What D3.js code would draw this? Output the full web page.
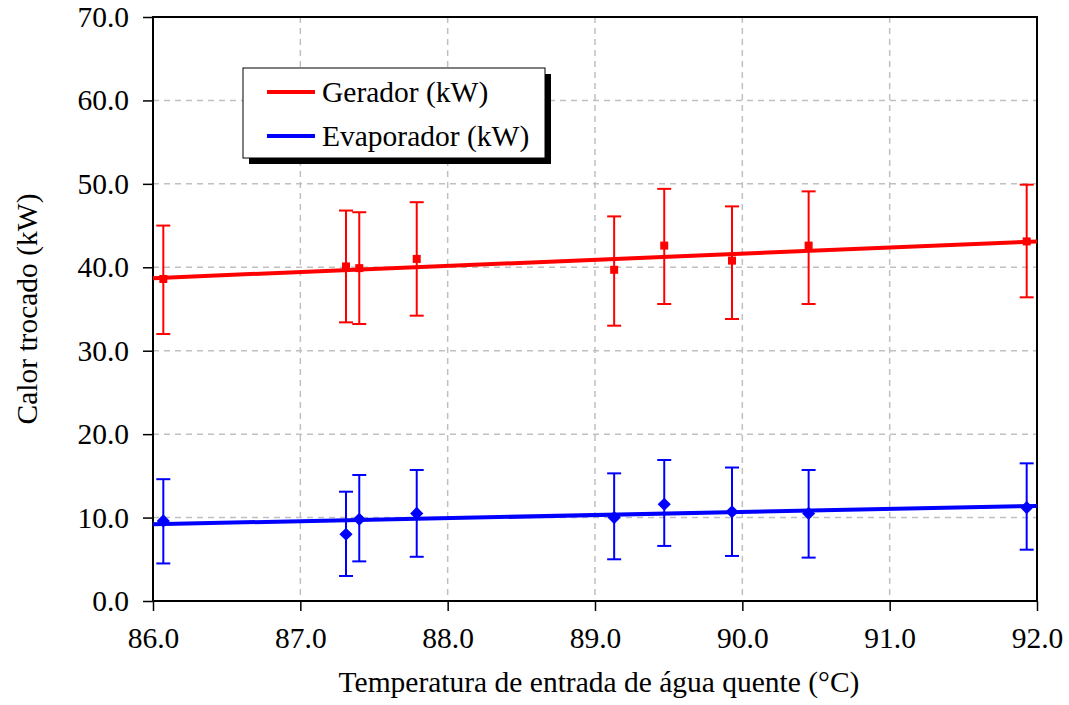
<!DOCTYPE html>
<html>
<head>
<meta charset="utf-8">
<script src="https://cdn.jsdelivr.net/npm/d3@7"></script>
<style>
  body { margin: 0; background: #fff; }
  svg text { font-family: "Liberation Serif", "DejaVu Serif", "Times New Roman", serif !important; fill: #000; }
</style>
</head>
<body>
<svg id="chart" width="1069" height="705"></svg>
<script>
// temperaturas de entrada (°C)
var temps = [86.07, 87.31, 87.40, 87.79, 89.13, 89.47, 89.93, 90.45, 91.93]

// gerador
var gerador = [38.6, 40.1, 39.9, 41.0, 39.7, 42.6, 40.8, 42.6, 43.1]
var geradorMin = [32.0, 33.4, 33.2, 34.2, 33.0, 35.6, 33.8, 35.6, 36.4]
var geradorMax = [45.0, 46.8, 46.6, 47.8, 46.1, 49.4, 47.3, 49.1, 49.9]

// evaporador
var evaporador = [9.6, 8.0, 9.8, 10.5, 10.0, 11.6, 10.7, 10.5, 11.2]
var evaporadorMin = [4.5, 3.0, 4.75, 5.3, 5.0, 6.6, 5.4, 5.2, 6.15]
var evaporadorMax = [14.6, 13.1, 15.1, 15.7, 15.3, 16.9, 16.0, 15.7, 16.5]

// linhas de tendencia (extremos)
var trendX = [86.0, 92.0]
var trendGerador = [38.7, 43.1]
var trendEvaporador = [9.2, 11.4]

var xTicks = [86, 87, 88, 89, 90, 91, 92]
var yTicks = [0, 10, 20, 30, 40, 50, 60, 70]
var legendLabels = ['Gerador (kW)', 'Evaporador (kW)']

var mLeft = 153, mRight = 1037, mTop = 17, mBottom = 601
var fs = 29.5
var serif = '"Liberation Serif", "DejaVu Serif", "Times New Roman", serif'

var svg = d3.select('#chart')
var x = d3.scaleLinear().domain([86, 92]).range([mLeft, mRight])
var y = d3.scaleLinear().domain([0, 70]).range([mBottom, mTop])

// grade
svg.append('g').selectAll('line').data(xTicks.slice(1, -1)).enter().append('line')
    .attr('x1', function(d) { return x(d) }).attr('x2', function(d) { return x(d) })
    .attr('y1', mTop).attr('y2', mBottom)
    .attr('stroke', '#c0c0c0').attr('stroke-width', 1.5).attr('stroke-dasharray', '6,5')
svg.append('g').selectAll('line').data(yTicks.slice(1, -1)).enter().append('line')
    .attr('y1', function(d) { return y(d) }).attr('y2', function(d) { return y(d) })
    .attr('x1', mLeft).attr('x2', mRight)
    .attr('stroke', '#c0c0c0').attr('stroke-width', 1.5).attr('stroke-dasharray', '6,5')

// borda da area
svg.append('rect').attr('x', mLeft).attr('y', mTop)
    .attr('width', mRight - mLeft).attr('height', mBottom - mTop)
    .attr('fill', 'none').attr('stroke', '#000').attr('stroke-width', 2)

// eixos
var xAxis = svg.append('g').attr('transform', 'translate(0,' + mBottom + ')')
    .call(d3.axisBottom(x).tickValues(xTicks).tickSize(10).tickPadding(16)
        .tickFormat(d3.format('.1f')))
var yAxis = svg.append('g').attr('transform', 'translate(' + mLeft + ',0)')
    .call(d3.axisLeft(y).tickValues(yTicks).tickSize(10).tickPadding(14)
        .tickFormat(d3.format('.1f')))
xAxis.attr('font-family', serif).attr('font-size', fs)
yAxis.attr('font-family', serif).attr('font-size', fs)
xAxis.select('.domain').attr('stroke-width', 2).attr('d', 'M' + mLeft + ',0H' + mRight)
yAxis.select('.domain').attr('stroke-width', 2).attr('d', 'M0,' + mTop + 'V' + mBottom)
svg.selectAll('.tick line').attr('stroke', '#000').attr('stroke-width', 1.5)

// titulos
svg.append('text').attr('x', (mLeft + mRight) / 2 + 4).attr('y', 692)
    .attr('text-anchor', 'middle').attr('font-size', fs)
    .text('Temperatura de entrada de água quente (°C)')
svg.append('text').attr('transform', 'translate(37,309) rotate(-90)')
    .attr('text-anchor', 'middle').attr('font-size', fs)
    .text('Calor trocado (kW)')

function series(vals, mins, maxs, trend, color, marker) {
    var g = svg.append('g')
    g.append('path')
        .datum(trendX.map(function(t, i) { return [t, trend[i]] }))
        .attr('d', d3.line().x(function(d) { return x(d[0]) }).y(function(d) { return y(d[1]) }))
        .attr('fill', 'none').attr('stroke', color).attr('stroke-width', 4)

    var eb = g.selectAll('.eb').data(temps).enter().append('g')
    eb.append('line')
        .attr('x1', function(d) { return x(d) }).attr('x2', function(d) { return x(d) })
        .attr('y1', function(d, i) { return y(mins[i]) }).attr('y2', function(d, i) { return y(maxs[i]) })
        .attr('stroke', color).attr('stroke-width', 2)
    eb.append('line')
        .attr('x1', function(d) { return x(d) - 7 }).attr('x2', function(d) { return x(d) + 7 })
        .attr('y1', function(d, i) { return y(mins[i]) }).attr('y2', function(d, i) { return y(mins[i]) })
        .attr('stroke', color).attr('stroke-width', 2)
    eb.append('line')
        .attr('x1', function(d) { return x(d) - 7 }).attr('x2', function(d) { return x(d) + 7 })
        .attr('y1', function(d, i) { return y(maxs[i]) }).attr('y2', function(d, i) { return y(maxs[i]) })
        .attr('stroke', color).attr('stroke-width', 2)

    var sym = d3.symbol().type(marker === 'square' ? d3.symbolSquare : d3.symbolDiamond2)
        .size(marker === 'square' ? 64 : 110)
    g.selectAll('.pt').data(temps).enter().append('path')
        .attr('d', sym)
        .attr('transform', function(d, i) { return 'translate(' + x(d) + ',' + y(vals[i]) + ')' })
        .attr('fill', color)
}

series(gerador, geradorMin, geradorMax, trendGerador, '#ff0000', 'square')
series(evaporador, evaporadorMin, evaporadorMax, trendEvaporador, '#0000ff', 'diamond')

// legenda
var lg = svg.append('g')
lg.append('rect').attr('x', 249).attr('y', 74).attr('width', 302).attr('height', 90).attr('fill', '#000')
lg.append('rect').attr('x', 243).attr('y', 68).attr('width', 302).attr('height', 90)
    .attr('fill', '#fff').attr('stroke', '#000').attr('stroke-width', 1)
var colors = ['#ff0000', '#0000ff']
legendLabels.forEach(function(l, i) {
    var cy = 92 + i * 44
    lg.append('line').attr('x1', 267).attr('x2', 315).attr('y1', cy).attr('y2', cy)
        .attr('stroke', colors[i]).attr('stroke-width', 4)
    lg.append('text').attr('x', 322).attr('y', cy + 10).attr('font-size', fs).text(l)
})
</script>
</body>
</html>
